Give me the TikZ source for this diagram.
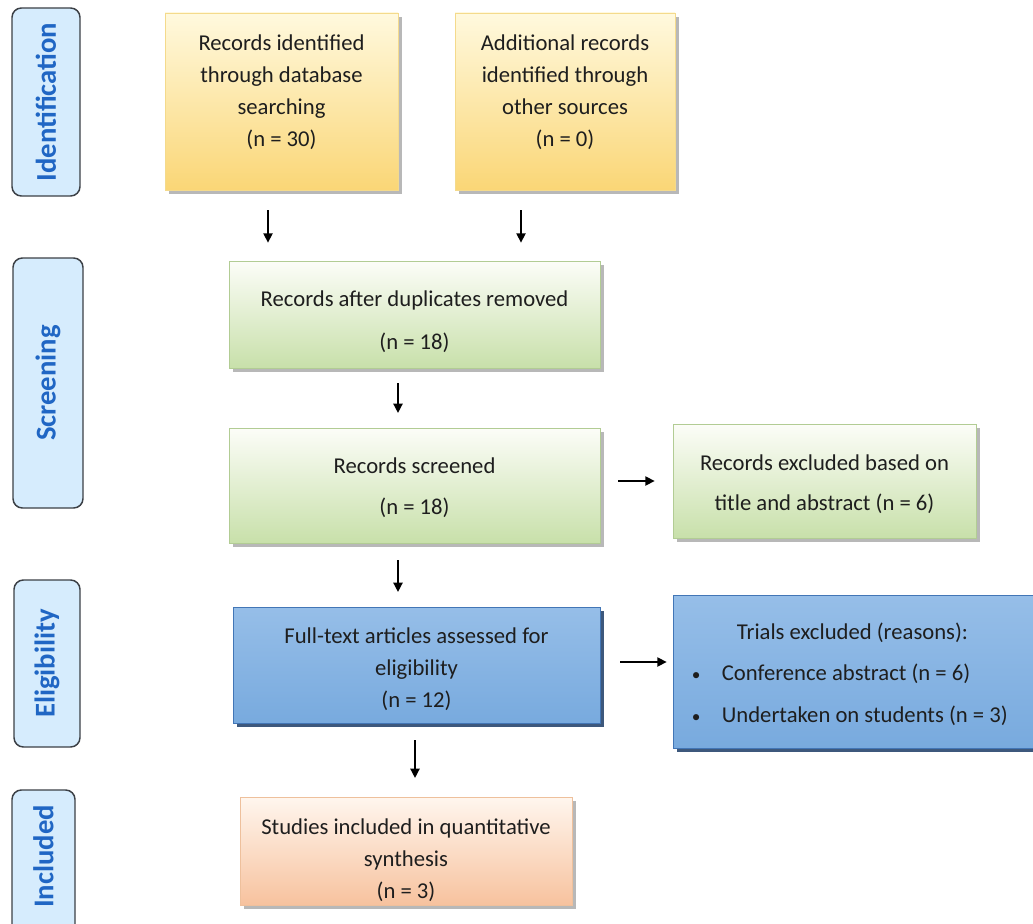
\documentclass[tikz,border=0pt]{standalone}
\usepackage{fontspec}
\setmainfont{Carlito}
\usetikzlibrary{shadows,arrows.meta}
\definecolor{txt}{RGB}{30,30,30}
\definecolor{phasefill}{RGB}{214,236,253}
\definecolor{phasedraw}{RGB}{60,64,70}
\definecolor{phasetext}{RGB}{32,102,196}
\definecolor{yeltop}{RGB}{255,249,222}
\definecolor{yelbot}{RGB}{250,214,118}
\definecolor{yeldraw}{RGB}{244,218,140}
\definecolor{grntop}{RGB}{252,253,248}
\definecolor{grnbot}{RGB}{200,224,170}
\definecolor{grndraw}{RGB}{178,204,148}
\definecolor{blutop}{RGB}{150,190,232}
\definecolor{blumid}{RGB}{70,130,198}
\definecolor{blubot}{RGB}{120,170,222}
\definecolor{bludraw}{RGB}{66,118,182}
\definecolor{orgtop}{RGB}{255,246,238}
\definecolor{orgbot}{RGB}{247,194,158}
\definecolor{orgdraw}{RGB}{238,192,156}
\begin{document}
\begin{tikzpicture}[x=0.75pt,y=-0.75pt,
  phase/.style={draw=phasedraw, line width=1.1pt, fill=phasefill, rounded corners=7pt,
    inner sep=0pt, rotate=90, text=phasetext, font=\fontsize{21.5}{24}\selectfont\bfseries},
  box/.style={line width=0.6pt, inner sep=0pt, align=center, text=txt,
    font=\fontsize{17}{24}\selectfont},
  yelbox/.style={box, draw=yeldraw, top color=yeltop, bottom color=yelbot,
    drop shadow={shadow xshift=3pt, shadow yshift=-3pt, fill=black!35, opacity=0.8}},
  grnbox/.style={box, draw=grndraw, top color=grntop, bottom color=grnbot,
    drop shadow={shadow xshift=3pt, shadow yshift=-3pt, fill=black!35, opacity=0.8}},
  blubox/.style={box, draw=bludraw, top color=blutop, middle color=blumid, bottom color=blubot,
    drop shadow={shadow xshift=3pt, shadow yshift=-3pt, fill={rgb,255:red,40;green,70;blue,110}, opacity=0.9}},
  orgbox/.style={box, draw=orgdraw, top color=orgtop, bottom color=orgbot,
    drop shadow={shadow xshift=3pt, shadow yshift=-3pt, fill=black!35, opacity=0.8}},
  arr/.style={-{Triangle[length=7pt,width=7pt]}, line width=1.1pt, black}
]
\useasboundingbox (0,0) rectangle (1033,924);

% phase labels
\node[phase, minimum width={188*0.75pt}, minimum height={68*0.75pt}] (L1) at (46,102) {Identification};
\node[phase, minimum width={250*0.75pt}, minimum height={70*0.75pt}] (L2) at (48,383) {Screening};
\node[phase, minimum width={167*0.75pt}, minimum height={66*0.75pt}] (L3) at (47,663.5) {Eligibility};
\node[phase, minimum width={146*0.75pt}, minimum height={63*0.75pt}] (L4) at (43.5,863) {\hspace*{10pt}Included};

% boxes
\node[yelbox, minimum width={233*0.75pt}, minimum height={177*0.75pt}] (y1) at (281.5,101.5)
  {Records identified\\through database\\searching\\(n = 30)\rule[-16pt]{0pt}{0pt}};
\node[yelbox, minimum width={220*0.75pt}, minimum height={177*0.75pt}] (y2) at (565,101.5)
  {Additional records\\identified through\\other sources\\(n = 0)\rule[-16pt]{0pt}{0pt}};
\node[grnbox, minimum width={371*0.75pt}, minimum height={107*0.75pt}] (g1) at (414.5,314.5)
  {\rule{0pt}{23pt}Records after duplicates removed\\[8pt](n = 18)};
\node[grnbox, minimum width={371*0.75pt}, minimum height={115*0.75pt}] (g2) at (414.5,485.5)
  {\rule{0pt}{15pt}Records screened\\[7pt](n = 18)};
\node[grnbox, minimum width={303*0.75pt}, minimum height={114*0.75pt}] (e1) at (824.5,481)
  {\rule{0pt}{16pt}Records excluded based on\\[6pt]title and abstract (n = 6)};
\node[blubox, minimum width={367*0.75pt}, minimum height={116*0.75pt}] (b1) at (416.5,665)
  {\rule{0pt}{18pt}Full-text articles assessed for\\eligibility\\(n = 12)};
\node[blubox, minimum width={375*0.75pt}, minimum height={153*0.75pt}] (b2) at (860.5,671.5)
  {\hspace*{-16pt}\begin{tabular}{@{}l@{\hspace{16pt}}l@{}}
   \multicolumn{2}{c}{\hspace*{4pt}\rule{0pt}{21pt}Trials excluded (reasons):}\\[7pt]
   {\fontsize{13}{14}\selectfont •}&Conference abstract (n = 6)\\[7pt]
   {\fontsize{13}{14}\selectfont •}&Undertaken on students (n = 3)
   \end{tabular}};
\node[orgbox, minimum width={332*0.75pt}, minimum height={108*0.75pt}] (o1) at (406,851)
  {\rule{0pt}{26pt}Studies included in quantitative\\synthesis\\(n = 3)};

% arrow x positions
\coordinate (ax1) at (268,0);
\coordinate (ax2) at (521,0);
\coordinate (ax3) at (398,0);
\coordinate (ax4) at (415,0);
\coordinate (ay1) at (0,481);
\coordinate (ay2) at (0,662);

\draw[arr, shorten <=15pt, shorten >=13.5pt] (y1.south -| ax1) -- (g1.north -| ax1);
\draw[arr, shorten <=15pt, shorten >=13.5pt] (y2.south -| ax2) -- (g1.north -| ax2);
\draw[arr, shorten <=11pt, shorten >=11pt] (g1.south -| ax3) -- (g2.north -| ax3);
\draw[arr, shorten <=13.5pt, shorten >=13.5pt] (g2.east |- ay1) -- (e1.west |- ay1);
\draw[arr, shorten <=12.5pt, shorten >=11pt] (g2.south -| ax3) -- (b1.north -| ax3);
\draw[arr, shorten <=15pt, shorten >=4.5pt] (b1.east |- ay2) -- (b2.west |- ay2);
\draw[arr, shorten <=12.5pt, shorten >=14pt] (b1.south -| ax4) -- (o1.north -| ax4);
\end{tikzpicture}
\end{document}
